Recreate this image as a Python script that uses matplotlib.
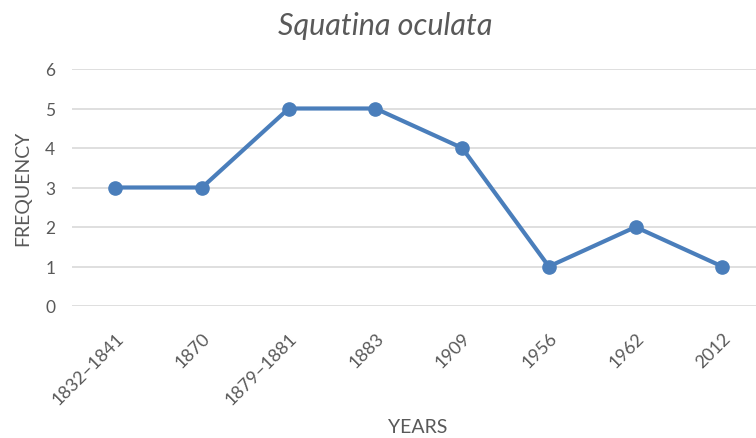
import matplotlib
matplotlib.use("Agg")
import matplotlib.pyplot as plt

years = ["1832–1841", "1870", "1879–1881", "1883", "1909", "1956", "1962", "2012"]
frequency = [3, 3, 5, 5, 4, 1, 2, 1]
y_ticks = [0, 1, 2, 3, 4, 5, 6]

plt.rcParams['font.family'] = ['Lato', 'DejaVu Sans']
grey = '#595959'

fig = plt.figure(figsize=(7.56, 4.39), dpi=100)
ax = fig.add_axes([72/756, 1-307/439, (756-72)/756, (307-70)/439])
x = list(range(len(years)))
ax.plot(x, frequency, color='#4a7ebb', lw=3.0, marker='o', ms=9.5, zorder=3, clip_on=False)
ax.set_xlim(-0.5, -0.5 + (756-72)/86.7)
ax.set_ylim(0, 6)
ax.set_yticks(y_ticks)
ax.set_xticks(x)
ax.set_xticklabels(years, rotation=45, ha='right', rotation_mode='anchor')
ax.grid(axis='y', color='#d9d9d9', lw=1.2)
ax.set_axisbelow(True)
for s in ax.spines.values():
    s.set_visible(False)
ax.tick_params(axis='y', length=0, labelsize=12.5, colors=grey, pad=12)
ax.tick_params(axis='x', length=0, labelsize=13, colors=grey, pad=17)
ax.set_ylabel("FREQUENCY", fontsize=14, color=grey, labelpad=10)
fig.text(418/756, 1-428/439, "YEARS", fontsize=14, color=grey, ha='center', va='center')
fig.text(385/756, 1-26/439, "Squatina oculata", fontsize=22, color=grey, style='italic', ha='center', va='center')
fig.savefig("out.png", dpi=100)
